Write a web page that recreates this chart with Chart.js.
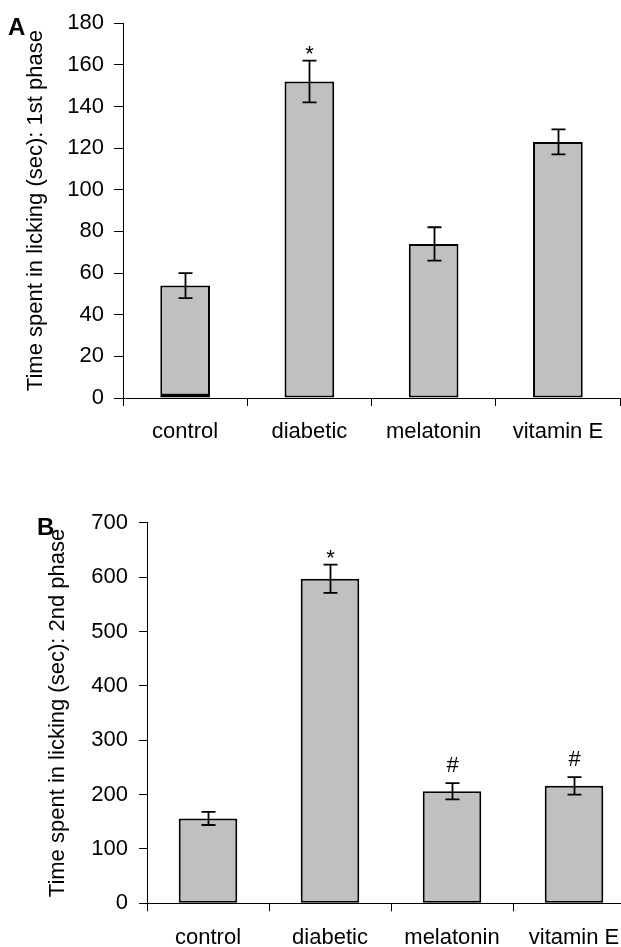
<!DOCTYPE html>
<html><head><meta charset="utf-8">
<script src="https://cdn.jsdelivr.net/npm/chart.js@4.4.0/dist/chart.umd.min.js"></script>
<style>
html,body{margin:0;padding:0;background:#fff;width:621px;height:947px;overflow:hidden;position:relative;font-family:"Liberation Sans",Arial,sans-serif;}
.panel{position:absolute;left:0;width:621px;overflow:hidden;}
.letter{position:absolute;font-weight:bold;font-size:24px;line-height:24px;color:#000;}
</style></head><body>
<div class="panel" style="top:0;height:470px"><canvas id="ca" width="621" height="470"></canvas></div>
<div class="panel" style="top:470px;height:477px"><canvas id="cb" width="650" height="477"></canvas></div>
<div class="letter" style="left:8px;top:15px">A</div>
<div class="letter" style="left:37px;top:515px">B</div>
<script>
// ---- data ----
const categories = ['control', 'diabetic', 'melatonin', 'vitamin E'];
const phase1Means = [54, 152, 74, 123];
const phase1Errors = [6, 10, 8, 6];
const phase1Marks = ['', '*', '', ''];
const phase1Ticks = [0, 20, 40, 60, 80, 100, 120, 140, 160, 180];
const phase2Means = [156, 597, 206, 216];
const phase2Errors = [12, 26, 15, 16];
const phase2Marks = ['', '*', '#', '#'];
const phase2Ticks = [0, 100, 200, 300, 400, 500, 600, 700];
const titleA = 'Time spent in licking (sec): 1st phase';
const titleB = 'Time spent in licking (sec): 2nd phase';

// ---- style ----
const FONT = '"Liberation Sans", Arial, sans-serif';
const FS = 22;
Chart.defaults.font.family = FONT;
Chart.defaults.color = '#000';

const errorBarPlugin = {
  id: 'errorBars',
  afterDatasetsDraw(chart) {
    const ctx = chart.ctx;
    const ds = chart.data.datasets[0];
    const meta = chart.getDatasetMeta(0);
    const ys = chart.scales.y;
    ctx.save();
    ctx.strokeStyle = '#000';
    ctx.lineWidth = 1.8;
    meta.data.forEach((bar, i) => {
      const v = ds.data[i], e = ds.errors[i];
      const x = Math.round(bar.x) + 0.5;
      const yt = ys.getPixelForValue(v + e), yb = ys.getPixelForValue(v - e);
      const cap = 7;
      ctx.beginPath();
      ctx.moveTo(x, yt); ctx.lineTo(x, yb);
      ctx.moveTo(x - cap, yt); ctx.lineTo(x + cap, yt);
      ctx.moveTo(x - cap, yb); ctx.lineTo(x + cap, yb);
      ctx.stroke();
      const m = ds.marks[i];
      if (m) {
        ctx.fillStyle = '#000';
        ctx.font = FS + 'px ' + FONT;
        ctx.textAlign = 'center';
        ctx.textBaseline = 'alphabetic';
        ctx.fillText(m, x, yt - (m === '#' ? 11 : 0));
      }
    });
    ctx.restore();
  }
};

function makeChart(id, means, errors, marks, ticks, title, L) {
  return new Chart(document.getElementById(id), {
    type: 'bar',
    data: {
      labels: categories,
      datasets: [{
        data: means,
        errors: errors,
        marks: marks,
        backgroundColor: '#C0C0C0',
        borderColor: '#000',
        borderWidth: c => ({ top: L.bw, left: L.bw, right: L.bw, bottom: c.dataIndex === L.thickBase ? 4 : L.bw }),
        borderSkipped: false,
        barPercentage: L.barPct,
        categoryPercentage: 1.0
      }]
    },
    options: {
      responsive: false,
      animation: false,
      devicePixelRatio: 1,
      layout: { padding: { left: 0, top: L.top, right: L.right, bottom: 0 } },
      plugins: { legend: { display: false }, tooltip: { enabled: false } },
      scales: {
        x: {
          offset: true,
          grid: { display: true, drawOnChartArea: false, drawTicks: true, tickLength: 8, color: '#000', lineWidth: 1, offset: true },
          border: { display: true, color: '#000', width: 1 },
          ticks: { font: { size: FS }, color: '#000', padding: 13, maxRotation: 0, autoSkip: false },
          afterFit: s => { s.height = L.xh; }
        },
        y: {
          min: ticks[0],
          max: ticks[ticks.length - 1],
          afterBuildTicks: s => { s.ticks = ticks.map(v => ({ value: v })); },
          grid: { display: true, drawOnChartArea: false, drawTicks: true, tickLength: L.tl, color: '#000', lineWidth: 1 },
          border: { display: true, color: '#000', width: 1 },
          ticks: { font: { size: FS }, color: '#000', padding: L.tp },
          title: { display: true, text: title, font: { size: FS }, color: '#000', padding: { top: L.tpad, bottom: 0 } },
          afterFit: s => { s.width = L.yw; }
        }
      }
    },
    plugins: [errorBarPlugin]
  });
}

makeChart('ca', phase1Means, phase1Errors, phase1Marks, phase1Ticks, titleA,
  { top: 21, right: 1, xh: 72, yw: 123, tl: 9, tp: 10, tpad: 23, barPct: 0.4, bw: 2, thickBase: 0 });
makeChart('cb', phase2Means, phase2Errors, phase2Marks, phase2Ticks, titleB,
  { top: 52.7, right: 15, xh: 43.7, yw: 147, tl: 8, tp: 11, tpad: 45, barPct: 0.48, bw: 2, thickBase: -1 });
</script>
</body></html>
